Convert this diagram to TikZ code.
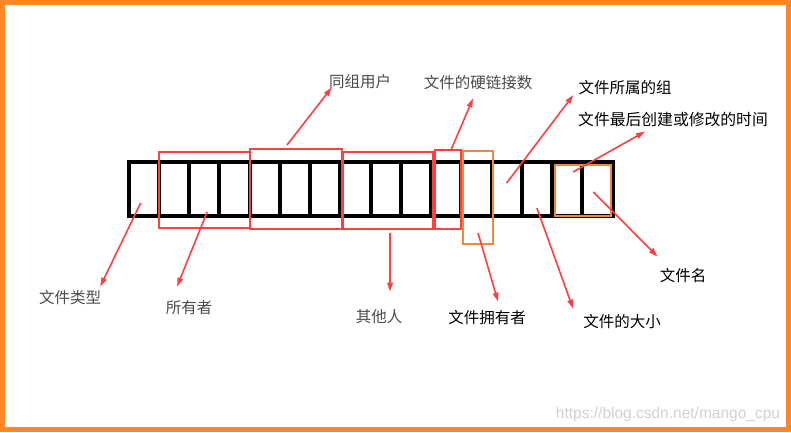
\documentclass[tikz,border=0pt]{standalone}
\usepackage{fontspec}
\newfontfamily\cjk{Noto Sans CJK SC}
\newfontfamily\wmfont{Liberation Sans}
\usetikzlibrary{arrows.meta}
\definecolor{frameorange}{RGB}{255,135,40}
\definecolor{boxred}{RGB}{255,64,64}
\definecolor{boxorange}{RGB}{240,135,65}
\definecolor{labelgray}{RGB}{75,75,75}

\begin{document}
\begin{tikzpicture}[x=1pt,y=-1pt,
  cell/.style={draw=black,line width=4pt,minimum width=30.25pt,minimum height=54pt,inner sep=0pt,outer sep=0pt,anchor=west},
  redbox/.style={draw=boxred,line width=2.5pt,inner sep=0pt,outer sep=0pt},
  orangebox/.style={draw=boxorange,line width=2.5pt,inner sep=0pt,outer sep=0pt},
  lbl/.style={font=\cjk\fontsize{15.5}{15.5}\selectfont,inner sep=0pt},
  pointer/.style={draw=boxred,line width=1.6pt,-{Triangle[length=9pt,width=5.5pt]}}]

\useasboundingbox (0,0) rectangle (791,432);
\fill [white] (0,0) rectangle (791,432);
\draw [frameorange,line width=5pt] (2.5,2.5) rectangle (788.5,429.5);

% the sixteen cells
\node [cell] (c1) at (128.5,189) {};
\node [cell] (c2) at (c1.east) {};
\node [cell] (c3) at (c2.east) {};
\node [cell] (c4) at (c3.east) {};
\node [cell] (c5) at (c4.east) {};
\node [cell] (c6) at (c5.east) {};
\node [cell] (c7) at (c6.east) {};
\node [cell] (c8) at (c7.east) {};
\node [cell] (c9) at (c8.east) {};
\node [cell] (c10) at (c9.east) {};
\node [cell] (c11) at (c10.east) {};
\node [cell] (c12) at (c11.east) {};
\node [cell] (c13) at (c12.east) {};
\node [cell] (c14) at (c13.east) {};
\node [cell] (c15) at (c14.east) {};
\node [cell] (c16) at (c15.east) {};

% groups
\node [redbox,minimum width=91pt,minimum height=76pt] (own) at (204.5,190) {};
\node [redbox,minimum width=92pt,minimum height=80pt] (grp) at (296,189) {};
\node [redbox,minimum width=90pt,minimum height=77pt] (oth) at (388,190.5) {};
\node [redbox,minimum width=26pt,minimum height=79pt] (lnk) at (448,189.5) {};
\node [orangebox,minimum width=30pt,minimum height=93pt] (usr) at (478,197.5) {};
\node [orangebox,minimum width=56pt,minimum height=51pt] (fname) at (583,190.5) {};

% labels
\node [lbl,text=labelgray] (ltype) at (70,298) {文件类型};
\node [lbl,text=labelgray] (lown) at (189,308) {所有者};
\node [lbl,text=labelgray] (lgrp) at (360,82) {同组用户};
\node [lbl,text=labelgray] (loth) at (379,317) {其他人};
\node [lbl,text=labelgray] (llnk) at (478,83) {文件的硬链接数};
\node [lbl] (lgroup) at (625,88) {文件所属的组};
\node [lbl,font=\cjk\fontsize{15.8}{15.8}\selectfont] (ltime) at (673,119) {文件最后创建或修改的时间};
\node [lbl] (lname) at (683,276) {文件名};
\node [lbl] (lsize) at (622,322) {文件的大小};
\node [lbl] (lusr) at (487,318) {文件拥有者};

\node [font=\wmfont\fontsize{15.5}{15.5}\selectfont,text=black!18,inner sep=0pt] (wm) at (668,414) {https://blog.csdn.net/mango\_cpu};

\draw [pointer] ([xshift=-3pt,yshift=-14pt]c1.center) -- ([xshift=-1pt,yshift=4pt]ltype.north east);
\draw [pointer] ([xshift=3pt,yshift=-23pt]c3.center) -- ([xshift=-12pt,yshift=14pt]lown.north);
\draw [pointer] ([xshift=-9pt,yshift=4pt]grp.north) -- ([xshift=3pt,yshift=2pt]lgrp.south west);
\draw [pointer] ([xshift=2pt,yshift=-4pt]oth.south) -- ([xshift=11pt,yshift=18pt]loth.north);
\draw [pointer] ([xshift=3pt]lnk.north) -- ([xshift=-5pt,yshift=-8pt]llnk.south);
\draw [pointer] ([yshift=6pt]c13.center) -- ([xshift=-5pt,yshift=-7pt]lgroup.west);
\draw [pointer] ([xshift=6pt,yshift=17pt]c15.center) -- ([xshift=-28pt,yshift=-5pt]ltime.south);
\draw [pointer] ([xshift=-4pt,yshift=-3pt]c16.center) -- ([xshift=-2pt,yshift=12pt]lname.north west);
\draw [pointer] ([yshift=-19pt]c14.center) -- ([xshift=-10pt,yshift=6pt]lsize.north west);
\draw [pointer] ([yshift=11pt]usr.south) -- ([xshift=11pt,yshift=9pt]lusr.north);

\end{tikzpicture}
\end{document}
